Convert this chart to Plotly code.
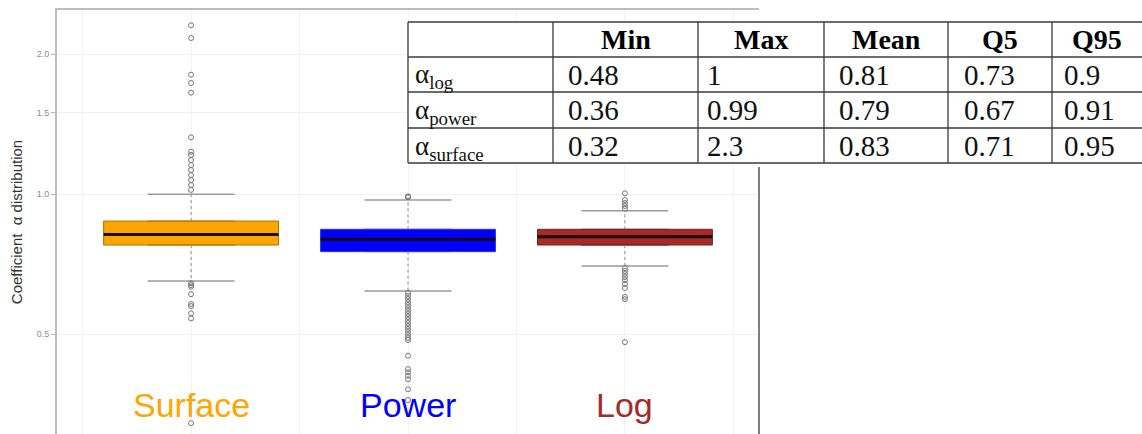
import plotly.graph_objects as go

# ---------------- data ----------------
categories = ["Surface", "Power", "Log"]
box_colors = ["#FFA500", "#0000FF", "#A52A2A"]
edge_colors = ["#b27300", "#3333cc", "#7a1f1f"]
label_colors = ["#FFA500", "#0000FF", "#A52A2A"]

q1 = [0.778, 0.753, 0.778]
median = [0.820, 0.801, 0.811]
q3 = [0.876, 0.841, 0.841]
whisker_low = [0.651, 0.620, 0.701]
whisker_high = [1.000, 0.972, 0.922]

outliers_surface = [2.309, 2.168, 1.808, 1.735, 1.654, 1.326, 1.235, 1.215, 1.185,
                    1.156, 1.128, 1.100, 1.073, 1.047, 1.022,
                    0.644, 0.638, 0.633, 0.610, 0.581, 0.575, 0.555, 0.541, 0.322]
outliers_power = [0.990, 0.988, 0.986,
                  0.6135, 0.6044, 0.5955, 0.5867, 0.5781, 0.5696, 0.5612, 0.5529,
                  0.5448, 0.5367, 0.5288, 0.5210, 0.5134, 0.5058, 0.4983, 0.4910,
                  0.4861, 0.4498, 0.4211, 0.4143, 0.4074, 0.4002, 0.3809, 0.3612]
outliers_log = [1.005, 0.972, 0.958, 0.944, 0.931,
                0.694, 0.684, 0.674, 0.664, 0.654, 0.642, 0.629, 0.602, 0.595, 0.481]
outliers = [outliers_surface, outliers_power, outliers_log]

y_tick_vals = [0.5, 1.0, 1.5, 2.0]
y_tick_text = ["0.5", "1.0", "1.5", "2.0"]

table_header = ["", "Min", "Max", "Mean", "Q5", "Q95"]
table_rows = ["α<sub>log</sub>", "α<sub>power</sub>", "α<sub>surface</sub>"]
table_min = ["0.48", "0.36", "0.32"]
table_max = ["1", "0.99", "2.3"]
table_mean = ["0.81", "0.79", "0.83"]
table_q5 = ["0.73", "0.67", "0.71"]
table_q95 = ["0.9", "0.91", "0.95"]

# ---------------- figure ----------------
W, H = 1142, 434
ML, MR, MT, MB = 57, 0, 10, 0
PW, PH = W - ML - MR, H - MT - MB
x_dom_end = (759 - ML) / PW
box_w = 0.806
cap_w = 0.40


def px_x(p):
    return (p - ML) / PW


def px_y(p):
    return (H - MB - p) / PH


fig = go.Figure()
positions = list(range(len(categories)))

for i, cat in enumerate(categories):
    c = positions[i]
    fig.add_trace(go.Scatter(x=[c, c, None, c, c],
                             y=[q3[i], whisker_high[i], None, q1[i], whisker_low[i]],
                             mode="lines", line=dict(color="#8a8a8a", width=1, dash="dot"),
                             hoverinfo="skip", showlegend=False))
    fig.add_trace(go.Scatter(x=[c - cap_w / 2, c + cap_w / 2, None, c - cap_w / 2, c + cap_w / 2],
                             y=[whisker_high[i], whisker_high[i], None, whisker_low[i], whisker_low[i]],
                             mode="lines", line=dict(color="#9a9a9a", width=1.5),
                             hoverinfo="skip", showlegend=False))
    fig.add_trace(go.Box(x=[c], q1=[q1[i]], median=[median[i]], q3=[q3[i]],
                         lowerfence=[q1[i]], upperfence=[q3[i]],
                         width=box_w, fillcolor=box_colors[i],
                         line=dict(color=edge_colors[i], width=1),
                         boxpoints=False, name=cat, showlegend=False))
    fig.add_trace(go.Scatter(x=[c - box_w / 2, c + box_w / 2], y=[median[i], median[i]],
                             mode="lines", line=dict(color="#1a0a00", width=3),
                             hoverinfo="skip", showlegend=False))
    fig.add_trace(go.Scatter(x=[c] * len(outliers[i]), y=outliers[i], mode="markers",
                             marker=dict(symbol="circle-open", size=5, color="#777777",
                                         line=dict(width=1)),
                             hoverinfo="skip", showlegend=False))
    fig.add_annotation(x=c, xref="x", y=px_y(405), yref="paper", text=cat, showarrow=False,
                       font=dict(family="Liberation Sans", size=34, color=label_colors[i]),
                       yanchor="middle")

# right border of the panel
fig.add_shape(type="line", xref="x domain", yref="paper", x0=1, x1=1, y0=0, y1=px_y(167),
              line=dict(color="#555555", width=1.5))

# ---------------- table (drawn with shapes + text) ----------------
col_edges = [408, 553, 698, 824, 948, 1052, 1142]
row_edges = [22, 57, 92, 128, 163]
line_col = "#3a3a3a"
fig.add_shape(type="rect", xref="paper", yref="paper",
              x0=px_x(col_edges[0]), x1=px_x(col_edges[-1]),
              y0=px_y(row_edges[-1]), y1=px_y(row_edges[0]),
              fillcolor="white", line=dict(width=0), layer="above")
for r in row_edges:
    fig.add_shape(type="line", xref="paper", yref="paper",
                  x0=px_x(col_edges[0]), x1=px_x(col_edges[-1]), y0=px_y(r), y1=px_y(r),
                  line=dict(color=line_col, width=1.3), layer="above")
for cx in col_edges[:-1]:
    fig.add_shape(type="line", xref="paper", yref="paper",
                  x0=px_x(cx), x1=px_x(cx), y0=px_y(row_edges[-1]), y1=px_y(row_edges[0]),
                  line=dict(color=line_col, width=1.3), layer="above")

serif = "Liberation Serif"
for j, h in enumerate(table_header):
    if h:
        fig.add_annotation(xref="paper", yref="paper",
                           x=px_x((col_edges[j] + col_edges[j + 1]) / 2),
                           y=px_y((row_edges[0] + row_edges[1]) / 2),
                           text="<b>" + h + "</b>", showarrow=False,
                           xanchor="center", yanchor="middle",
                           font=dict(family=serif, size=28, color="black"))

columns = [table_rows, table_min, table_max, table_mean, table_q5, table_q95]
pads = [5, 13, 7, 13, 14, 10]
for j, col in enumerate(columns):
    for r, val in enumerate(col):
        fig.add_annotation(xref="paper", yref="paper",
                           x=px_x(col_edges[j] + pads[j]),
                           y=px_y((row_edges[r + 1] + row_edges[r + 2]) / 2 + (2 if j == 0 else 0)),
                           text=val, showarrow=False, xanchor="left", yanchor="middle",
                           font=dict(family=serif, size=29 if j else 27, color="#111111"))

fig.update_layout(
    width=W, height=H,
    margin=dict(l=ML, r=MR, t=MT, b=MB, autoexpand=False),
    paper_bgcolor="white", plot_bgcolor="white",
    showlegend=False,
    xaxis=dict(domain=[0, x_dom_end], range=[-0.618, 2.618], side="top",
               tickmode="array", tickvals=[-0.5, 0, 0.5, 1, 1.5, 2, 2.5],
               showticklabels=False, ticks="", showgrid=True, gridcolor="#f2f2f2",
               gridwidth=1, zeroline=False, showline=True, linecolor="#bdbdbd",
               linewidth=2, automargin=False),
    yaxis=dict(type="log", range=[-0.5153, 0.3963], tickmode="array",
               tickvals=y_tick_vals, ticktext=y_tick_text,
               tickfont=dict(family="Liberation Sans", size=9, color="#8c8c8c"),
               ticks="outside", ticklen=4, tickcolor="#b3b3b3",
               showgrid=True, gridcolor="#f0f0f0", zeroline=False,
               showline=True, linecolor="#bdbdbd", linewidth=2, automargin=False,
               title=dict(text="Coefficient\u00a0 α distribution", standoff=10,
                          font=dict(family="Liberation Sans", size=15, color="#333333"))),
)

fig.write_html("out.html", config={"displayModeBar": False},
               post_script="document.body.style.margin='0px';document.body.style.overflow='hidden';")
